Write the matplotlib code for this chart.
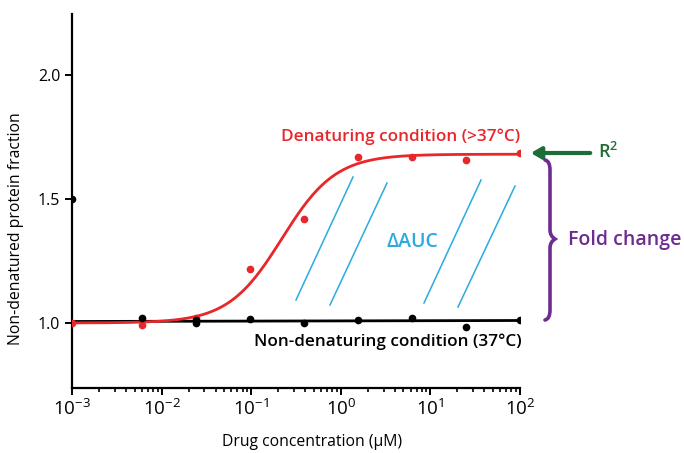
import numpy as np
import matplotlib
matplotlib.use("Agg")
import matplotlib.pyplot as plt
from matplotlib.path import Path
from matplotlib.patches import PathPatch

plt.rcParams['font.family'] = ['Open Sans', 'DejaVu Sans']

# data (drug concentration, uM)
conc = [0.001, 0.0061, 0.0244, 0.0977, 0.39, 1.56, 6.25, 25, 100]
denat = [1.00, 0.99, 1.02, 1.218, 1.42, 1.67, 1.67, 1.655, 1.685]
nondenat = [1.50, 1.02, 1.00, 1.015, 1.00, 1.012, 1.02, 0.985, 1.012]
nondenat_extra_x = [0.0244]
nondenat_extra_y = [1.01]

# fit parameters (Hill curve)
red_bottom, red_top, red_ec50, red_hill = 1.0, 1.68, 0.22, 1.45
black_fit = [1.006, 1.010]

red = '#e8272b'
blue = '#29abe2'
green = '#1d6e36'
purple = '#6d2c8f'

fig = plt.figure(figsize=(6.84, 4.53), dpi=100)
ax = fig.add_axes([72 / 684, 1 - 388 / 453, 448 / 684, 374 / 453])

xs = np.logspace(-3, 2, 400)
red_fit = red_bottom + (red_top - red_bottom) / (1 + (red_ec50 / xs) ** red_hill)
ax.plot(xs, red_fit, color=red, lw=2, zorder=3)
ax.plot([conc[0], conc[-1]], black_fit, color='black', lw=2, zorder=2)
ax.plot(conc, denat, 'o', color=red, ms=4.5, zorder=4)
ax.plot(conc, nondenat, 'o', color='black', ms=4.5, zorder=4)
ax.plot(nondenat_extra_x, nondenat_extra_y, 'o', color='black', ms=4.5, zorder=4)

ax.set_xscale('log')
ax.set_xlim(1e-3, 1e2)
ax.set_ylim(0.738, 2.245)
ax.set_yticks([1.0, 1.5, 2.0])
ax.set_yticklabels(['1.0', '1.5', '2.0'])
ax.set_xticks([1e-3, 1e-2, 1e-1, 1e0, 1e1, 1e2])
ax.set_xticklabels(['$\\mathregular{10^{-3}}$', '$\\mathregular{10^{-2}}$', '$\\mathregular{10^{-1}}$',
                    '$\\mathregular{10^{0}}$', '$\\mathregular{10^{1}}$', '$\\mathregular{10^{2}}$'])
for s in ['top', 'right']:
    ax.spines[s].set_visible(False)
for s in ['left', 'bottom']:
    ax.spines[s].set_linewidth(1.6)
ax.tick_params(axis='y', which='major', direction='out', length=5, width=1.4, labelsize=11.5)
ax.tick_params(axis='x', which='major', direction='out', length=5, width=1.4, labelsize=13.5, pad=3)
ax.tick_params(axis='x', which='minor', direction='out', length=3, width=1.2)
ax.set_xlabel('Drug concentration (µM)', fontsize=11.3, labelpad=11, x=0.536)
ax.set_ylabel('Non-denatured protein fraction', fontsize=11.3, labelpad=10, y=0.425)


def fp(px, py):
    return (px / 684, 1 - py / 453)


ft = fig.transFigure
fig.text(*fp(401, 137), 'Denaturing condition (>37°C)', color=red, fontsize=12.3,
         fontweight='semibold', ha='center', va='center')
fig.text(*fp(388, 342), 'Non-denaturing condition (37°C)', color='black', fontsize=12.3,
         fontweight='semibold', ha='center', va='center')
fig.text(*fp(412, 242), 'ΔAUC', color=blue, fontsize=14, fontweight='semibold',
         ha='center', va='center')

hatch = [((296, 300), (353, 177)), ((330, 305), (387, 183)),
         ((424, 303), (481, 180)), ((458, 307), (515, 186))]
for a, b in hatch:
    fig.add_artist(plt.Line2D([fp(*a)[0], fp(*b)[0]], [fp(*a)[1], fp(*b)[1]],
                              transform=ft, color=blue, lw=1.1))

ax.annotate('', xy=fp(528, 153), xytext=fp(593, 153), xycoords=ft, textcoords=ft,
            arrowprops=dict(arrowstyle='-|>,head_length=0.6,head_width=0.35',
                            color=green, lw=3))
fig.text(*fp(598, 152), 'R$^\\mathregular{2}$', color=green, fontsize=13,
         fontweight='semibold', ha='left', va='center')

pts = [(545, 160), (550, 161), (550, 170), (550, 230), (550, 236), (555, 239),
       (550, 242), (550, 248), (550, 310), (550, 319), (545, 320)]
verts = [fp(*p) for p in pts]
codes = [Path.MOVETO, Path.CURVE3, Path.CURVE3, Path.LINETO, Path.CURVE3, Path.CURVE3,
         Path.CURVE3, Path.CURVE3, Path.LINETO, Path.CURVE3, Path.CURVE3]
fig.add_artist(PathPatch(Path(verts, codes), transform=ft, fill=False,
                         edgecolor=purple, lw=2.6, capstyle='round'))
fig.text(*fp(568, 240), 'Fold change', color=purple, fontsize=14,
         fontweight='semibold', ha='left', va='center')

fig.savefig('out.png', dpi=100)
